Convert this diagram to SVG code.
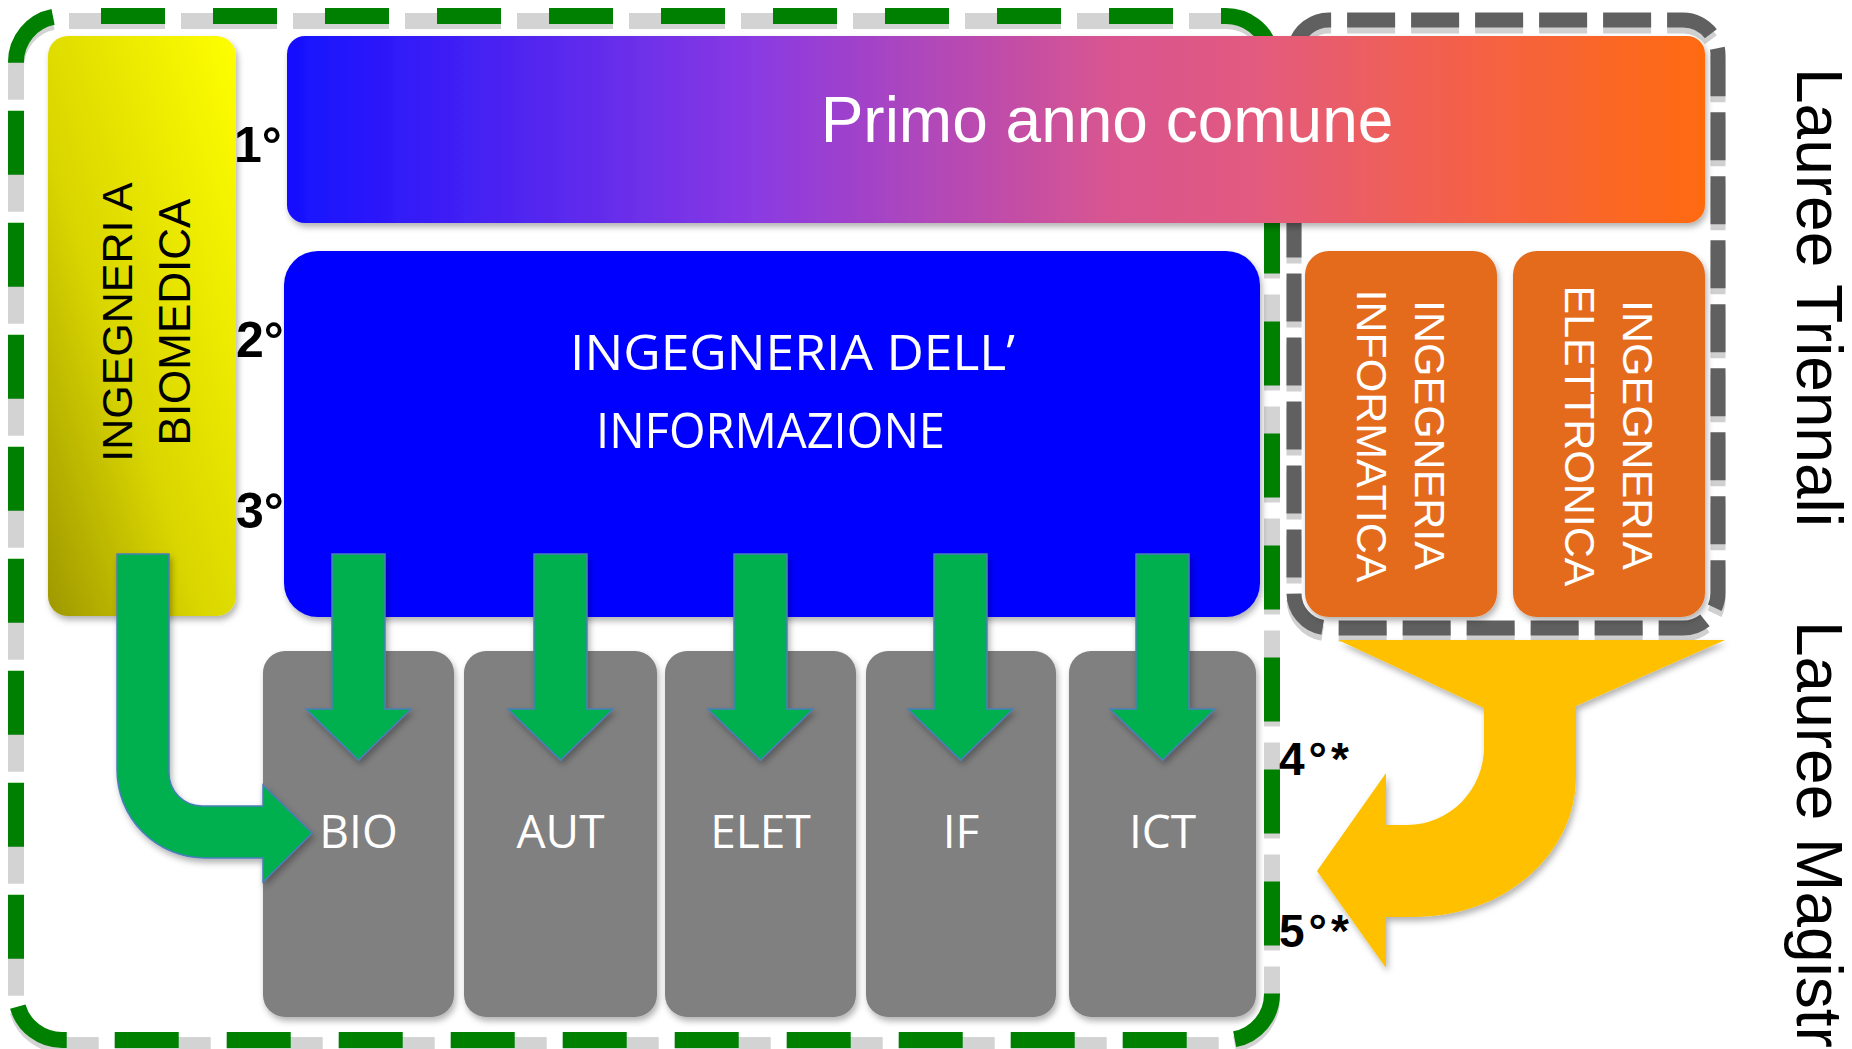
<svg xmlns="http://www.w3.org/2000/svg" width="1852" height="1049" viewBox="0 0 1852 1049">
<defs>
<linearGradient id="gY" x1="0" y1="1" x2="1" y2="0">
<stop offset="0" stop-color="#9e9800"/>
<stop offset="0.4" stop-color="#d9d500"/>
<stop offset="1" stop-color="#ffff00"/>
</linearGradient>
<linearGradient id="gP" x1="0" y1="0" x2="1" y2="0">
<stop offset="0" stop-color="#1510ff"/>
<stop offset="0.33" stop-color="#8a3ae2"/>
<stop offset="0.58" stop-color="#d85590"/>
<stop offset="0.68" stop-color="#e25a80"/>
<stop offset="0.81" stop-color="#f2604f"/>
<stop offset="1" stop-color="#ff6a10"/>
</linearGradient>
<filter id="sh" x="-10%" y="-10%" width="130%" height="130%">
<feDropShadow dx="2" dy="4" stdDeviation="3" flood-color="#000" flood-opacity="0.3"/>
</filter>
<filter id="shs" x="-5%" y="-50%" width="110%" height="250%">
<feDropShadow dx="1" dy="3" stdDeviation="1.5" flood-color="#000" flood-opacity="0.25"/>
</filter>
<path id="dn" d="M -26.5 554 L 26.5 554 L 26.5 709 L 52.5 709 L 0 760 L -52.5 709 L -26.5 709 Z"/>
<path id="tri" d="M 1294 130 L 1294 55 A 35 35 0 0 1 1329 20 L 1683 20 A 35 35 0 0 1 1718 55 L 1718 593 A 35 35 0 0 1 1683 628 L 1329 628 A 35 35 0 0 1 1294 593 Z"/>
<path id="mag" d="M 1226 16 L 62 16 A 46 46 0 0 0 16 62 L 16 994 A 46 46 0 0 0 62 1040 L 1226 1040 A 46 46 0 0 0 1272 994 L 1272 62 A 46 46 0 0 0 1226 16 Z"/>
</defs>
<style>
.t{font-family:"Liberation Sans",Arial,sans-serif}
.c{font-family:"Open Sans","Noto Sans",sans-serif;fill:#fff}
.arr{fill:#00b050;stroke:#4a7ebb;stroke-width:1.5}
.gbox{fill:#808080}
.obox{fill:#e46a1a}
.lab{font-family:"Liberation Sans",Arial,sans-serif;font-weight:bold;fill:#000}
</style>
<rect width="1852" height="1049" fill="#fff"/>

<g id="border-magistrali">
<use href="#mag" fill="none" stroke="#d3d3d3" stroke-width="16" stroke-dasharray="96 16" stroke-dashoffset="59" transform="translate(0,5)"/>
<use href="#mag" fill="none" stroke="#008000" stroke-width="16" stroke-dasharray="64 48" stroke-dashoffset="59"/>
</g>

<g id="border-triennali">
<use href="#tri" fill="none" stroke="#d0d0d0" stroke-width="15" stroke-dasharray="48 16" stroke-dashoffset="44" transform="translate(0,6)"/>
<use href="#tri" fill="none" stroke="#606060" stroke-width="15" stroke-dasharray="48 16" stroke-dashoffset="44"/>
</g>

<g id="node-biomedica">
<rect x="48" y="36" width="188" height="580" rx="20" fill="url(#gY)" filter="url(#sh)"/>
<text class="t" font-size="43" text-anchor="middle" transform="translate(132,322) rotate(-90)">INGEGNERI A</text>
<text class="t" font-size="44" text-anchor="middle" transform="translate(190,322) rotate(-90)">BIOMEDICA</text>
</g>

<g id="node-primo-anno">
<rect x="287" y="36" width="1418" height="187" rx="18" fill="url(#gP)" filter="url(#sh)"/>
<text class="t" font-size="64" fill="#fff" text-anchor="middle" x="1107" y="142">Primo anno comune</text>
</g>

<g id="node-informazione">
<rect x="284" y="251" width="976" height="366" rx="34" fill="#0000ff" filter="url(#sh)"/>
<text class="c" font-size="49" x="570" y="370" textLength="445" lengthAdjust="spacingAndGlyphs">INGEGNERIA DELL’</text>
<text class="c" font-size="49" x="596" y="448" textLength="349" lengthAdjust="spacingAndGlyphs">INFORMAZIONE</text>
</g>

<g id="node-informatica">
<rect class="obox" x="1305" y="251" width="192" height="366" rx="24" filter="url(#sh)"/>
<text class="t" font-size="43" fill="#fff" text-anchor="middle" transform="translate(1415,435) rotate(90)">INGEGNERIA</text>
<text class="t" font-size="43" fill="#fff" text-anchor="middle" transform="translate(1357,436) rotate(90)">INFORMATICA</text>
</g>

<g id="node-elettronica">
<rect class="obox" x="1513" y="251" width="192" height="366" rx="24" filter="url(#sh)"/>
<text class="t" font-size="43" fill="#fff" text-anchor="middle" transform="translate(1623,435) rotate(90)">INGEGNERIA</text>
<text class="t" font-size="43" fill="#fff" text-anchor="middle" transform="translate(1565,436) rotate(90)">ELETTRONICA</text>
</g>

<g id="node-bio">
<rect class="gbox" x="263" y="651" width="191" height="366" rx="22" filter="url(#sh)"/>
<text class="c" font-size="46" text-anchor="middle" x="358.5" y="848">BIO</text>
</g>
<g id="node-aut">
<rect class="gbox" x="464" y="651" width="193" height="366" rx="22" filter="url(#sh)"/>
<text class="c" font-size="46" text-anchor="middle" x="560.5" y="848">AUT</text>
</g>
<g id="node-elet">
<rect class="gbox" x="665" y="651" width="191" height="366" rx="22" filter="url(#sh)"/>
<text class="c" font-size="46" text-anchor="middle" x="760.5" y="848">ELET</text>
</g>
<g id="node-if">
<rect class="gbox" x="866" y="651" width="190" height="366" rx="22" filter="url(#sh)"/>
<text class="c" font-size="46" text-anchor="middle" x="961" y="848">IF</text>
</g>
<g id="node-ict">
<rect class="gbox" x="1069" y="651" width="187" height="366" rx="22" filter="url(#sh)"/>
<text class="c" font-size="46" text-anchor="middle" x="1162.5" y="848">ICT</text>
</g>

<line x1="30" y1="634" x2="1782" y2="634" stroke="#ff0000" stroke-width="13" stroke-dasharray="49 36" filter="url(#shs)"/>

<g id="connectors">
<path d="M 1338 640 L 1725 640 L 1576 706 L 1576 777 A 161 140 0 0 1 1415 917 L 1386 917 L 1386 968 L 1317 871 L 1386 773 L 1386 825 L 1407 825 A 77 78 0 0 0 1484 747 L 1484 708 Z" fill="#ffc000" filter="url(#sh)"/>
<path class="arr" filter="url(#sh)" d="M 117 554 L 169 554 L 169 773 A 33 33 0 0 0 202 806 L 263 806 L 263 785 L 312 833 L 263 882 L 263 858 L 205 858 A 88 88 0 0 1 117 770 Z"/>
<use href="#dn" class="arr" filter="url(#sh)" transform="translate(358.5,0)"/>
<use href="#dn" class="arr" filter="url(#sh)" transform="translate(560.5,0)"/>
<use href="#dn" class="arr" filter="url(#sh)" transform="translate(760.5,0)"/>
<use href="#dn" class="arr" filter="url(#sh)" transform="translate(960.5,0)"/>
<use href="#dn" class="arr" filter="url(#sh)" transform="translate(1162.5,0)"/>
</g>

<g id="labels">
<text class="lab" font-size="50" x="234" y="162">1°</text>
<text class="lab" font-size="50" x="236" y="357">2°</text>
<text class="lab" font-size="50" x="236" y="528">3°</text>
<text class="lab" font-size="46" x="1279" y="775" letter-spacing="4">4°*</text>
<text class="lab" font-size="46" x="1279" y="947" letter-spacing="4">5°*</text>
<text class="t" font-size="64" fill="#000" transform="translate(1797,68) rotate(90)">Lauree Triennali</text>
<text class="t" font-size="64" fill="#000" transform="translate(1797,621) rotate(90)">Lauree Magistrali</text>
</g>
</svg>
